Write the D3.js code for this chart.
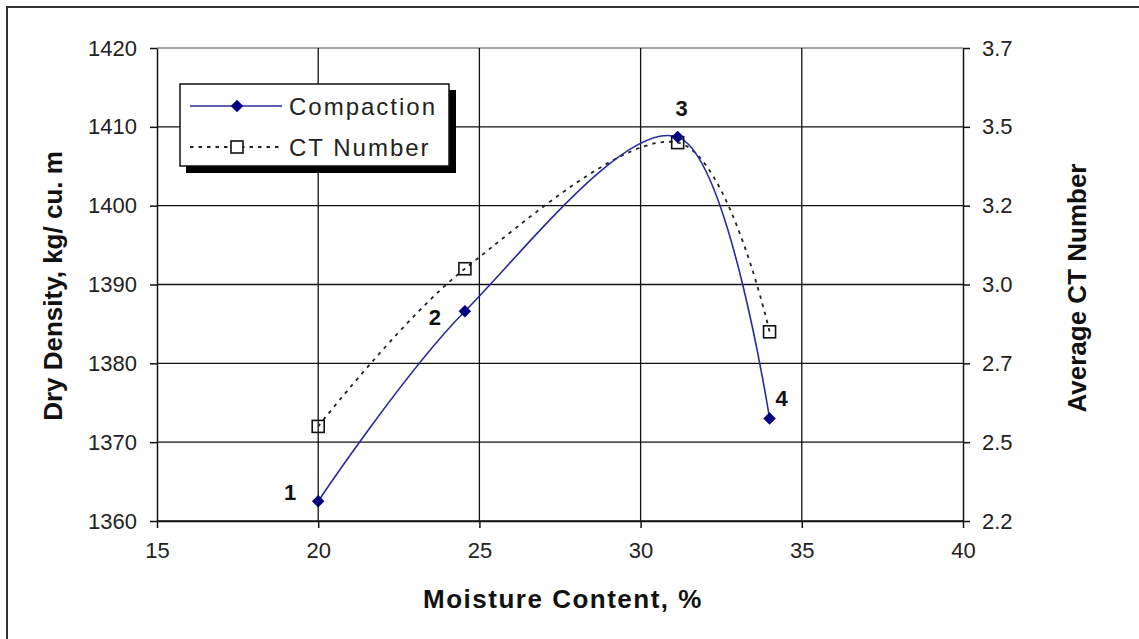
<!DOCTYPE html>
<html><head><meta charset="utf-8">
<script src="https://cdn.jsdelivr.net/npm/d3@7"></script>
<style>
html,body{margin:0;padding:0;background:#fff;}
svg{display:block;font-family:"Liberation Sans",Arial,sans-serif;}
</style></head>
<body>
<svg id="chart" width="1139" height="639"></svg>
<script>
// ---- data ----
const moisture = [20.0, 24.55, 31.15, 34.0];
const dryDensity = [1362.5, 1386.6, 1408.7, 1373.0];
const ctNumber = [2.50, 3.00, 3.40, 2.80];
const pointLabels = ["1", "2", "3", "4"];
const xTicks = [15, 20, 25, 30, 35, 40];
const yLeftTicks = [1360, 1370, 1380, 1390, 1400, 1410, 1420];
const yRightTicks = [2.2, 2.45, 2.7, 2.95, 3.2, 3.45, 3.7];
const yRightTickLabels = ["2.2", "2.5", "2.7", "3.0", "3.2", "3.5", "3.7"];
const seriesNames = ["Compaction", "CT Number"];

const svg = d3.select("#chart");
const L = 157, R = 963, T = 48, B = 521;
const x = d3.scaleLinear().domain([15, 40]).range([L, R]);
const yL = d3.scaleLinear().domain([1360, 1420]).range([B, T]);
const yR = d3.scaleLinear().domain([2.2, 3.7]).range([B, T]);

// outer frame (top + left)
svg.append("line").attr("x1", 7).attr("x2", 1139).attr("y1", 7).attr("y2", 7).attr("stroke", "#333").attr("stroke-width", 2);
svg.append("line").attr("x1", 7).attr("x2", 7).attr("y1", 6).attr("y2", 639).attr("stroke", "#333").attr("stroke-width", 2);

// gridlines
const grid = svg.append("g");
yLeftTicks.forEach(v => {
  grid.append("line").attr("x1", L).attr("x2", R).attr("y1", yL(v)).attr("y2", yL(v))
    .attr("stroke", v === 1420 ? "#888" : "#111").attr("stroke-width", 1.3);
});
xTicks.filter(v => v > 15 && v < 40).forEach(v => {
  grid.append("line").attr("x1", x(v)).attr("x2", x(v)).attr("y1", T).attr("y2", B)
    .attr("stroke", "#111").attr("stroke-width", 1.3);
});

// axes
const tickStyle = g => {
  g.selectAll(".domain").attr("stroke", "#111").attr("stroke-width", 1.5);
  g.selectAll(".tick line").attr("stroke", "#111").attr("stroke-width", 1.5);
  g.selectAll("text").attr("fill", "#222").attr("font-size", 22).attr("font-family", "Liberation Sans, Arial, sans-serif");
};
svg.append("g").attr("transform", `translate(0,${B})`)
  .call(d3.axisBottom(x).tickValues(xTicks).tickSize(7).tickSizeOuter(0).tickPadding(14).tickFormat(d3.format("d")))
  .call(tickStyle);
svg.append("g").attr("transform", `translate(${L},0)`)
  .call(d3.axisLeft(yL).tickValues(yLeftTicks).tickSize(7).tickSizeOuter(0).tickPadding(13).tickFormat(d3.format("d")))
  .call(tickStyle);
svg.append("g").attr("transform", `translate(${R},0)`)
  .call(d3.axisRight(yR).tickValues(yRightTicks).tickSize(7).tickSizeOuter(0).tickPadding(12)
    .tickFormat((d, i) => yRightTickLabels[i]))
  .call(tickStyle);

// axis titles
svg.append("text").attr("x", 563).attr("y", 608).attr("text-anchor", "middle")
  .attr("font-size", 26).attr("font-weight", "bold").attr("fill", "#111").attr("letter-spacing", 1.5)
  .text("Moisture Content, %");
svg.append("text").attr("transform", "translate(62,286) rotate(-90)").attr("text-anchor", "middle")
  .attr("font-size", 26).attr("font-weight", "bold").attr("fill", "#111")
  .text("Dry Density, kg/ cu. m");
svg.append("text").attr("transform", "translate(1086,288) rotate(-90)").attr("text-anchor", "middle")
  .attr("font-size", 26).attr("font-weight", "bold").attr("fill", "#111")
  .text("Average CT Number");

// series
const curve = d3.curveCardinal.tension(0);
const compData = moisture.map((m, i) => [m, dryDensity[i]]);
const ctData = moisture.map((m, i) => [m, ctNumber[i]]);

svg.append("path").datum(ctData)
  .attr("d", d3.line().x(d => x(d[0])).y(d => yR(d[1])).curve(curve))
  .attr("fill", "none").attr("stroke", "#222").attr("stroke-width", 1.8).attr("stroke-dasharray", "3.5,5");
svg.append("path").datum(compData)
  .attr("d", d3.line().x(d => x(d[0])).y(d => yL(d[1])).curve(curve))
  .attr("fill", "none").attr("stroke", "#2a2a9a").attr("stroke-width", 1.6);

const sq = 12;
svg.selectAll(".ctpt").data(ctData).enter().append("rect")
  .attr("x", d => x(d[0]) - sq / 2).attr("y", d => yR(d[1]) - sq / 2)
  .attr("width", sq).attr("height", sq).attr("fill", "none").attr("stroke", "#111").attr("stroke-width", 1.6);
const diamond = d3.symbol().type(d3.symbolDiamond2).size(100);
svg.selectAll(".cpt").data(compData).enter().append("path")
  .attr("d", diamond).attr("transform", d => `translate(${x(d[0])},${yL(d[1])})`)
  .attr("fill", "#000080");

// point labels
const labelOffsets = [[-28, -9], [-30, 6], [4, -29], [12, -20]];
svg.selectAll(".plab").data(compData).enter().append("text")
  .attr("x", (d, i) => x(d[0]) + labelOffsets[i][0]).attr("y", (d, i) => yL(d[1]) + labelOffsets[i][1])
  .attr("text-anchor", "middle").attr("dominant-baseline", "central")
  .attr("font-size", 22).attr("font-weight", "bold").attr("fill", "#111")
  .text((d, i) => pointLabels[i]);

// legend
const lg = svg.append("g");
lg.append("rect").attr("x", 186).attr("y", 90).attr("width", 270).attr("height", 83).attr("fill", "#000");
lg.append("rect").attr("x", 180).attr("y", 84).attr("width", 269).attr("height", 82)
  .attr("fill", "#fff").attr("stroke", "#111").attr("stroke-width", 1.5);
lg.append("line").attr("x1", 190).attr("x2", 282).attr("y1", 106).attr("y2", 106).attr("stroke", "#2a2a9a").attr("stroke-width", 1.6);
lg.append("path").attr("d", diamond).attr("transform", "translate(237,106)").attr("fill", "#000080");
lg.append("line").attr("x1", 190).attr("x2", 282).attr("y1", 147).attr("y2", 147)
  .attr("stroke", "#222").attr("stroke-width", 1.8).attr("stroke-dasharray", "3.5,5");
lg.append("rect").attr("x", 237 - sq / 2).attr("y", 147 - sq / 2).attr("width", sq).attr("height", sq)
  .attr("fill", "#fff").attr("stroke", "#111").attr("stroke-width", 1.6);
lg.selectAll(".lt").data(seriesNames).enter().append("text")
  .attr("x", 289).attr("y", (d, i) => i === 0 ? 106 : 147).attr("dominant-baseline", "central")
  .attr("font-size", 24).attr("letter-spacing", 2).attr("fill", "#222").text(d => d);
</script>
</body></html>
